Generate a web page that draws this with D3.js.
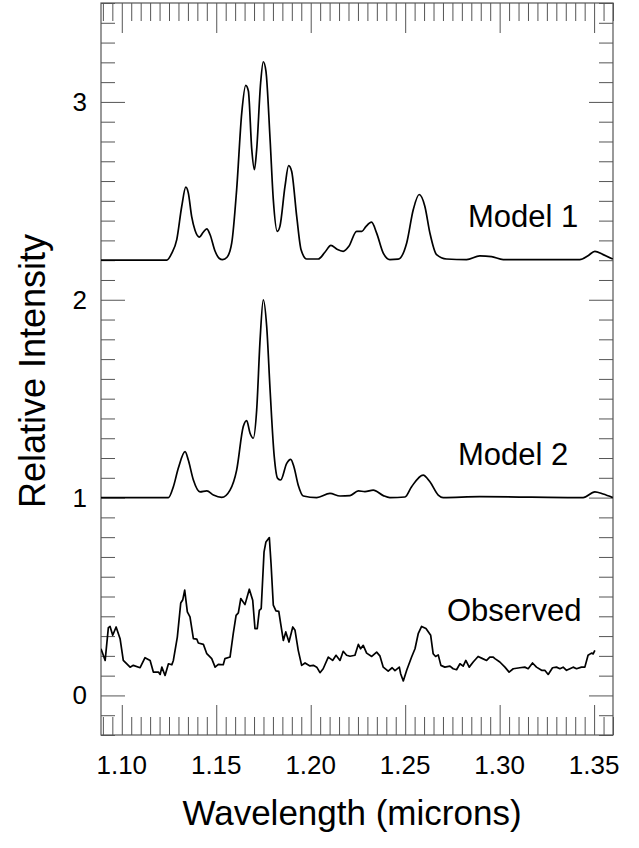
<!DOCTYPE html>
<html><head><meta charset="utf-8">
<script src="https://cdn.jsdelivr.net/npm/d3@7"></script>
<style>body{margin:0;background:#fff}svg{display:block}text{font-family:"Liberation Sans",Arial,Helvetica,sans-serif;fill:#000}</style>
</head><body><svg id="c" width="639" height="848"></svg>
<script>
// Wavelength (microns) / relative intensity
const model1W = [1.0890,1.1238,1.1265,1.1291,1.1317,1.1339,1.1352,1.1370,1.1388,1.1411,1.1430,1.1450,1.1467,1.1494,1.1515,1.1534,1.1557,1.1582,1.1608,1.1635,1.1656,1.1670,1.1688,1.1702,1.1714,1.1735,1.1749,1.1763,1.1785,1.1802,1.1823,1.1837,1.1864,1.1883,1.1899,1.1926,1.1949,1.1979,1.2040,1.2075,1.2107,1.2139,1.2172,1.2202,1.2243,1.2271,1.2292,1.2322,1.2349,1.2384,1.2419,1.2463,1.2508,1.2543,1.2574,1.2604,1.2631,1.2666,1.2719,1.2825,1.2895,1.2957,1.3019,1.3424,1.3468,1.3504,1.3548,1.3599];
const model1V = [2.2,2.2,2.236,2.304,2.47,2.569,2.54,2.42,2.35,2.317,2.34,2.358,2.33,2.245,2.21,2.203,2.215,2.287,2.557,2.945,3.084,3.055,2.76,2.658,2.76,3.097,3.203,3.156,2.81,2.506,2.346,2.371,2.574,2.678,2.65,2.42,2.253,2.206,2.206,2.24,2.275,2.255,2.245,2.27,2.346,2.346,2.37,2.392,2.337,2.236,2.203,2.205,2.287,2.456,2.532,2.473,2.337,2.228,2.206,2.203,2.222,2.218,2.203,2.203,2.223,2.245,2.228,2.206];

const model2W = [1.0890,1.1247,1.1273,1.1299,1.1335,1.1352,1.1379,1.1414,1.1450,1.1485,1.1529,1.1573,1.1608,1.1643,1.1661,1.1679,1.1696,1.1714,1.1732,1.1749,1.1767,1.1785,1.1807,1.1825,1.1841,1.1873,1.1894,1.1911,1.1934,1.1961,1.2032,1.2102,1.2155,1.2208,1.2252,1.2287,1.2331,1.2384,1.2419,1.2499,1.2534,1.2595,1.2631,1.2675,1.2701,1.2895,1.3442,1.3504,1.3548,1.3599];
const model2V = [1.0,1.0,1.055,1.148,1.232,1.19,1.089,1.029,1.034,1.013,1.001,1.038,1.139,1.359,1.389,1.325,1.30,1.443,1.797,2.0,1.865,1.544,1.207,1.097,1.089,1.173,1.193,1.156,1.063,1.008,1.0,1.021,1.008,1.01,1.034,1.03,1.038,1.01,1.0,1.003,1.055,1.114,1.08,1.013,1.0,1.005,1.0,1.029,1.018,1.0];

const obsW = [1.0890,1.0912,1.0929,1.0938,1.0952,1.0970,1.0991,1.1008,1.1044,1.1061,1.1097,1.1123,1.1150,1.1167,1.1194,1.1203,1.1212,1.1229,1.1247,1.1265,1.1273,1.1294,1.1312,1.1323,1.1333,1.1347,1.1361,1.1379,1.1397,1.1405,1.1432,1.1450,1.1476,1.1494,1.1511,1.1537,1.1546,1.1573,1.1590,1.1605,1.1617,1.1630,1.1652,1.1675,1.1693,1.1705,1.1717,1.1728,1.1738,1.1753,1.1763,1.1781,1.1790,1.1802,1.1816,1.1831,1.1841,1.1855,1.1868,1.1885,1.1905,1.1917,1.1934,1.1952,1.1970,1.1996,1.2014,1.2032,1.2049,1.2066,1.2093,1.2116,1.2134,1.2155,1.2172,1.2190,1.2208,1.2234,1.2252,1.2264,1.2278,1.2296,1.2323,1.2349,1.2366,1.2384,1.2410,1.2431,1.2446,1.2469,1.2476,1.2490,1.2508,1.2534,1.2552,1.2569,1.2587,1.2610,1.2635,1.2648,1.2661,1.2675,1.2689,1.2710,1.2737,1.2754,1.2772,1.2790,1.2807,1.2821,1.2839,1.2860,1.2886,1.2910,1.2931,1.2948,1.2966,1.2975,1.3001,1.3028,1.3050,1.3072,1.3107,1.3133,1.3151,1.3174,1.3195,1.3222,1.3239,1.3257,1.3280,1.3301,1.3319,1.3336,1.3354,1.3372,1.3389,1.3407,1.3433,1.3451,1.3468,1.3486,1.3495,1.3504];
const obsV = [0.236,0.177,0.343,0.349,0.304,0.346,0.287,0.177,0.143,0.152,0.14,0.191,0.177,0.118,0.118,0.106,0.143,0.101,0.16,0.155,0.177,0.295,0.467,0.484,0.532,0.422,0.397,0.287,0.285,0.265,0.258,0.211,0.186,0.143,0.157,0.155,0.186,0.194,0.312,0.405,0.417,0.49,0.459,0.537,0.481,0.338,0.338,0.43,0.439,0.726,0.776,0.798,0.667,0.456,0.427,0.425,0.363,0.278,0.321,0.27,0.346,0.329,0.228,0.152,0.164,0.149,0.152,0.143,0.115,0.135,0.194,0.177,0.203,0.177,0.223,0.203,0.198,0.203,0.258,0.236,0.253,0.214,0.197,0.219,0.2,0.143,0.123,0.14,0.125,0.143,0.11,0.073,0.127,0.194,0.236,0.312,0.349,0.338,0.304,0.211,0.197,0.205,0.152,0.143,0.148,0.135,0.13,0.16,0.148,0.177,0.143,0.169,0.197,0.186,0.177,0.194,0.194,0.186,0.169,0.143,0.118,0.135,0.14,0.143,0.135,0.164,0.143,0.127,0.127,0.106,0.14,0.143,0.135,0.143,0.127,0.135,0.143,0.135,0.143,0.143,0.203,0.214,0.21,0.228];

const xTickLabels = ["1.10","1.15","1.20","1.25","1.30","1.35"];
const yTickLabels = ["0","1","2","3"];
const seriesLabels = ["Model 1","Model 2","Observed"];

const svg = d3.select("#c");
const L = 101, R = 613, T = 3, B = 735;
const x = d3.scaleLinear().domain([1.089, 1.36]).range([L, R]);
const y = d3.scaleLinear().domain([-0.2, 3.5]).range([B, T]);
const axisCol = "#555";

// ticks
const xMinor = d3.range(218, 273).map(i => i * 0.005).filter(v => v >= 1.089 && v <= 1.3601 && Math.round(v*1000) % 50 !== 0);
const xMajor = xTickLabels.map(Number);
const yMinor = d3.range(-2, 36).map(i => i / 10).filter(v => Math.abs(v - Math.round(v)) > 1e-6);
const yMajor = yTickLabels.map(Number);

function axis(gen, vals, size, tx, ty) {
  const g = svg.append("g").attr("transform", `translate(${tx},${ty})`)
    .call(gen.tickValues(vals).tickSize(size).tickSizeOuter(0).tickFormat(""));
  g.select(".domain").remove();
  g.selectAll("line").attr("stroke", axisCol).attr("stroke-width", 1);
}
axis(d3.axisBottom(x), xMinor, -18, 0, B);
axis(d3.axisBottom(x), xMajor, -30, 0, B);
axis(d3.axisTop(x), xMinor, -18, 0, T);
axis(d3.axisTop(x), xMajor, -30, 0, T);
axis(d3.axisLeft(y), yMinor, -14, L, 0);
axis(d3.axisLeft(y), yMajor, -24, L, 0);
axis(d3.axisRight(y), yMinor, -14, R, 0);
axis(d3.axisRight(y), yMajor, -24, R, 0);

svg.append("rect").attr("x", L).attr("y", T).attr("width", R - L).attr("height", B - T)
  .attr("fill", "none").attr("stroke", axisCol).attr("stroke-width", 1.2);

// tick labels
svg.selectAll(".xl").data(xTickLabels).enter().append("text")
  .attr("x", d => x(+d)).attr("y", 774).attr("text-anchor", "middle")
  .attr("font-size", 26).text(d => d);
svg.selectAll(".yl").data(yTickLabels).enter().append("text")
  .attr("x", 87).attr("y", d => y(+d) + 9).attr("text-anchor", "end")
  .attr("font-size", 26).text(d => d);

// axis titles
svg.append("text").attr("x", 352).attr("y", 825).attr("text-anchor", "middle")
  .attr("font-size", 35).text("Wavelength (microns)");
svg.append("text").attr("transform", `translate(45,371) rotate(-90)`)
  .attr("text-anchor", "middle").attr("font-size", 36).text("Relative Intensity");

// curves
svg.append("clipPath").attr("id", "clip").append("rect")
  .attr("x", L).attr("y", T).attr("width", R - L).attr("height", B - T);
const smooth = d3.line().x(d => x(d[0])).y(d => y(d[1])).curve(d3.curveMonotoneX);
const lin = d3.line().x(d => x(d[0])).y(d => y(d[1]));
const plot = svg.append("g").attr("clip-path", "url(#clip)");
plot.append("path").attr("d", smooth(d3.zip(model1W, model1V))).attr("fill", "none").attr("stroke", "#000").attr("stroke-width", 1.7);
plot.append("path").attr("d", smooth(d3.zip(model2W, model2V))).attr("fill", "none").attr("stroke", "#000").attr("stroke-width", 1.7);
plot.append("path").attr("d", lin(d3.zip(obsW, obsV))).attr("fill", "none").attr("stroke", "#000").attr("stroke-width", 1.7).attr("stroke-linejoin", "round");

// series labels
const labPos = [[468, 227], [458, 465], [447, 621]];
svg.selectAll(".sl").data(seriesLabels).enter().append("text")
  .attr("x", (d, i) => labPos[i][0]).attr("y", (d, i) => labPos[i][1])
  .attr("font-size", 31).text(d => d);
</script></body></html>
